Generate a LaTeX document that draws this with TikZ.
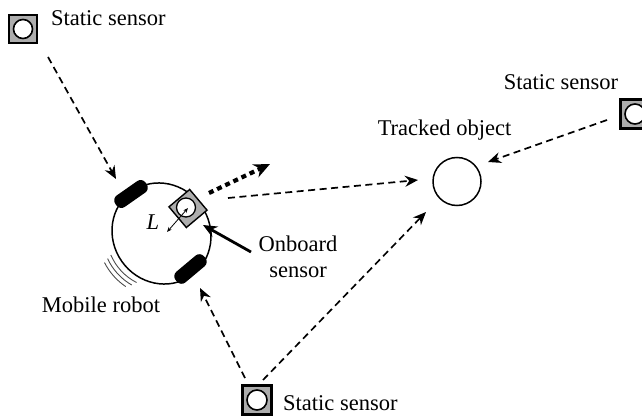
\documentclass[tikz,border=0pt]{standalone}
\usepackage{fontspec}
\setmainfont{Liberation Serif}
\usetikzlibrary{arrows.meta,shapes.geometric}
\begin{document}
\begin{tikzpicture}[x=1pt,y=1pt,
  lbl/.style={font=\fontsize{22.5}{26}\selectfont, inner sep=0pt},
  sensorbox/.style={draw=black, line width=2.6pt, fill=black!32, minimum size=#1, inner sep=0pt},
  sensoreye/.style={draw=black, line width=1.6pt, fill=white, circle, minimum size=#1, inner sep=0pt},
  wheel/.style={fill=black, rounded corners=6pt, minimum width=37pt, minimum height=14pt, inner sep=0pt},
  link/.style={line width=1.7pt, dash pattern=on 7pt off 4.5pt, -{Stealth[length=13pt,width=11pt]}},
  motion/.style={line width=0.9pt, black!70}]
\useasboundingbox (0,0) rectangle (642,418);

% static sensors
\node[sensorbox=28pt] (s1) at (23,389) {};
\node[sensoreye=19pt] (s1e) at (s1) {};
\node[sensorbox=29pt] (s2) at (635,304) {};
\node[sensoreye=20pt] (s2e) at (s2) {};
\node[sensorbox=29pt] (s3) at (257,18) {};
\node[sensoreye=20pt] (s3e) at (s3) {};

\node[lbl, anchor=west] (t1) at (51,400) {Static sensor};
\node[lbl] (t2) at (561,336) {Static sensor};
\node[lbl, anchor=west] (t3) at (283,15) {Static sensor};

% tracked object
\node[draw, circle, line width=1.5pt, minimum size=48pt, inner sep=0pt] (obj) at (457,236.5) {};
\node[lbl] (tobj) at (444.5,288) {Tracked object};

% mobile robot body and wheels
\node[draw, ellipse, line width=1.5pt, minimum width=97pt, minimum height=103pt, inner sep=0pt, rotate=35] (robot) at (161.5,184.5) {};
\node[wheel, rotate=35] (w1) at (131,224) {};
\node[wheel, rotate=40] (w2) at (190.5,149) {};

% motion marks
\foreach \r/\a/\b in {55/203/243, 59.5/205/240, 64/207/236}
  \draw[motion] (161.5,184.5) ++(\a:\r) arc[start angle=\a, end angle=\b, radius=\r];

% onboard sensor
\node[draw, line width=1.4pt, fill=black!32, minimum size=27pt, inner sep=0pt, rotate=40] (ob) at (188,209.5) {};
\node[draw, circle, line width=1.3pt, fill=white, minimum size=19pt, inner sep=0pt] (obe) at (186,210.5) {};

% sensor-to-centre distance L
\coordinate (la) at (167,186);
\coordinate (lb) at (188,210);
\draw[line width=0.8pt, {Stealth[length=5pt,width=4pt]}-{Stealth[length=5pt,width=4pt]}] (la) -- (lb);
\node[lbl, font=\fontsize{22.5}{26}\selectfont\itshape] (L) at (153,196) {L};

\node[lbl, align=center, text depth=0pt] (tob) at (298,161) {Onboard\\sensor};
\coordinate (pa) at (251,166);
\coordinate (pb) at (203,193);
\draw[line width=2.8pt, -{Stealth[length=14pt,width=12pt]}] (pa) -- (pb);

\node[lbl] (trob) at (101,113) {Mobile robot};

% heading of the robot
\coordinate (ha) at (209,225);
\coordinate (hb) at (270,254);
\draw[line width=4.2pt, dash pattern=on 5pt off 4pt, -{Stealth[length=16pt,width=14pt]}] (ha) -- (hb);

% observation links
\coordinate (a1) at (48,361);
\coordinate (b1) at (116,239);
\coordinate (a2) at (228,220);
\coordinate (b2) at (418,238);
\coordinate (a3) at (607,298);
\coordinate (b3) at (488,256);
\coordinate (a4) at (263,38);
\coordinate (b4) at (426,206);
\coordinate (a5) at (245,40);
\coordinate (b5) at (200,130);
\draw[link] (a1) -- (b1);
\draw[link] (a2) -- (b2);
\draw[link] (a3) -- (b3);
\draw[link] (a4) -- (b4);
\draw[link] (a5) -- (b5);
\end{tikzpicture}
\end{document}
